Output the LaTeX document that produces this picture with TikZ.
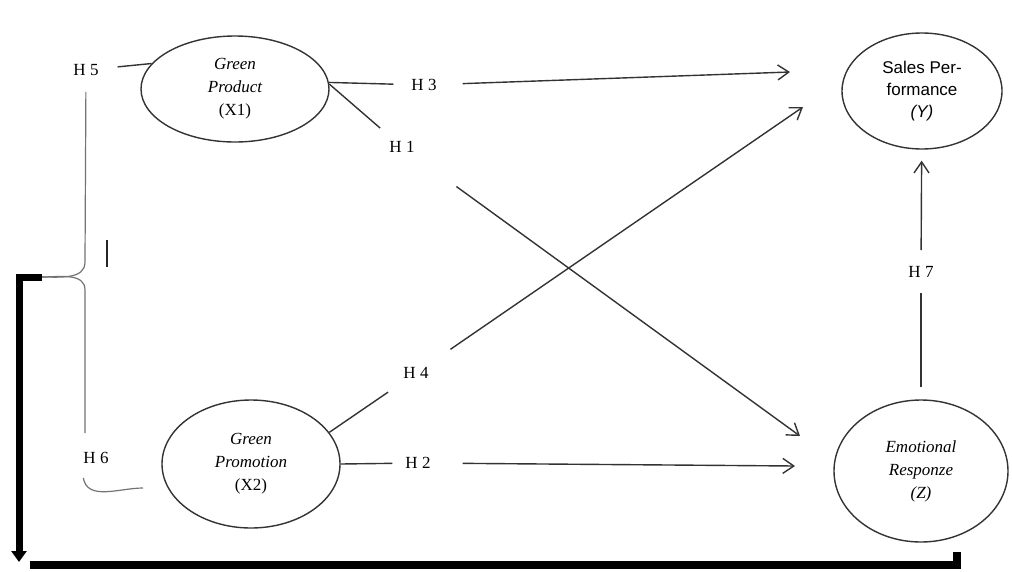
\documentclass[tikz,border=0pt]{standalone}
\usepackage{fontspec}
\setmainfont{Liberation Serif}
\newfontfamily\salesfont{Liberation Sans}
\usetikzlibrary{shapes.geometric,arrows.meta}

\tikzset{
  construct/.style={draw=black!80, line width=1.4pt, ellipse, inner sep=0pt,
    align=center, font=\fontsize{17}{23}\selectfont\itshape},
  hyp/.style={inner sep=2pt, font=\fontsize{17}{20}\selectfont},
  effect/.style={draw=black!80, line width=1.4pt},
  bracket/.style={draw=black!55, line width=1.2pt},
  loopline/.style={draw=black, line width=7pt}
}

\begin{document}
\begin{tikzpicture}[x=1pt, y=-1pt, >={Straight Barb[length=11pt,width=15pt]}]
        \useasboundingbox (0,0) rectangle (1012,571);
        % ==== CONSTRUCTS ====
        \node[construct, minimum width=188pt, minimum height=106pt] (gp) at (235,89)
            {Green\\Product\\{\upshape(X1)}};
        \node[construct, minimum width=178pt, minimum height=128pt] (gpr) at (251,464)
            {Green\\Promotion\\{\upshape(X2)}};
        \node[construct, minimum width=160pt, minimum height=116pt,
            font=\salesfont\fontsize{17}{22}\selectfont] (sp) at (922,91)
            {Sales Per-\\formance\\{\itshape(Y)}};
        \node[construct, minimum width=174pt, minimum height=142pt] (er) at (921,471)
            {Emotional\\Responze\\(Z)};

        % ==== HYPOTHESES ====
        \node[hyp] (h1) at (402,147) {H 1};
        \node[hyp] (h2) at (418,463) {H 2};
        \node[hyp] (h3) at (424,85) {H 3};
        \node[hyp] (h4) at (416,373) {H 4};
        \node[hyp] (h5) at (86,70) {H 5};
        \node[hyp] (h6) at (96,458) {H 6};
        \node[hyp] (h7) at (921,272) {H 7};

        % ==== FREE ENDS ====
        \coordinate (h1tip) at (800,436);
        \coordinate (h2tip) at (795,466);
        \coordinate (h3tip) at (790,72);
        \coordinate (h4tip) at (803,107);
        \coordinate (bt) at (85,262);
        \coordinate (bb) at (85,290);
        \coordinate (tip) at (42,277);
        \coordinate (h6end) at (143,488);

        % ==== PATHS ====
        \draw[effect, shorten >=16pt] (gp.4) -- (h3);
        \draw[effect, ->, shorten <=24pt] (h3) -- (h3tip);
        \draw[effect, shorten >=17pt] (gp.3) -- (h1);
        \draw[effect, ->, shorten <=54pt] (h1) -- (h1tip);
        \draw[effect, shorten >=20pt] (gpr.22) -- (h4);
        \draw[effect, ->, shorten <=28pt] (h4) -- (h4tip);
        \draw[effect, shorten >=11pt] (gpr.east) -- (h2);
        \draw[effect, ->, shorten <=30pt] (h2) -- (h2tip);
        \draw[effect, shorten <=12pt, shorten >=13pt] (er) -- (h7);
        \draw[effect, ->, shorten <=14pt, shorten >=11pt] (h7) -- (sp);

        % ==== H5 / H6 bracket ====
        \draw[effect, shorten <=17pt] (h5) -- (gp.163);
        \draw[bracket, shorten <=14pt] (h5) -- (bt) to[out=-90,in=0] (tip);
        \draw[bracket, shorten >=17pt] (tip) to[out=0,in=90] (bb) -- (bb |- h6.north);
        \draw[bracket] (h6.south west) ++(2,12) to[out=-80,in=180] (h6end);
        \draw[line width=2.5pt, black!85] (107,240) -- (107,267);

        % ==== Thick loop ====
        \draw[loopline, -{Triangle[length=11pt,width=15pt]}] (tip) -- (19,277) -- (19,562);
        \draw[loopline, line width=8pt] (957,552) -- (957,565) -- (30,565);
     \end{tikzpicture}
\end{document}
